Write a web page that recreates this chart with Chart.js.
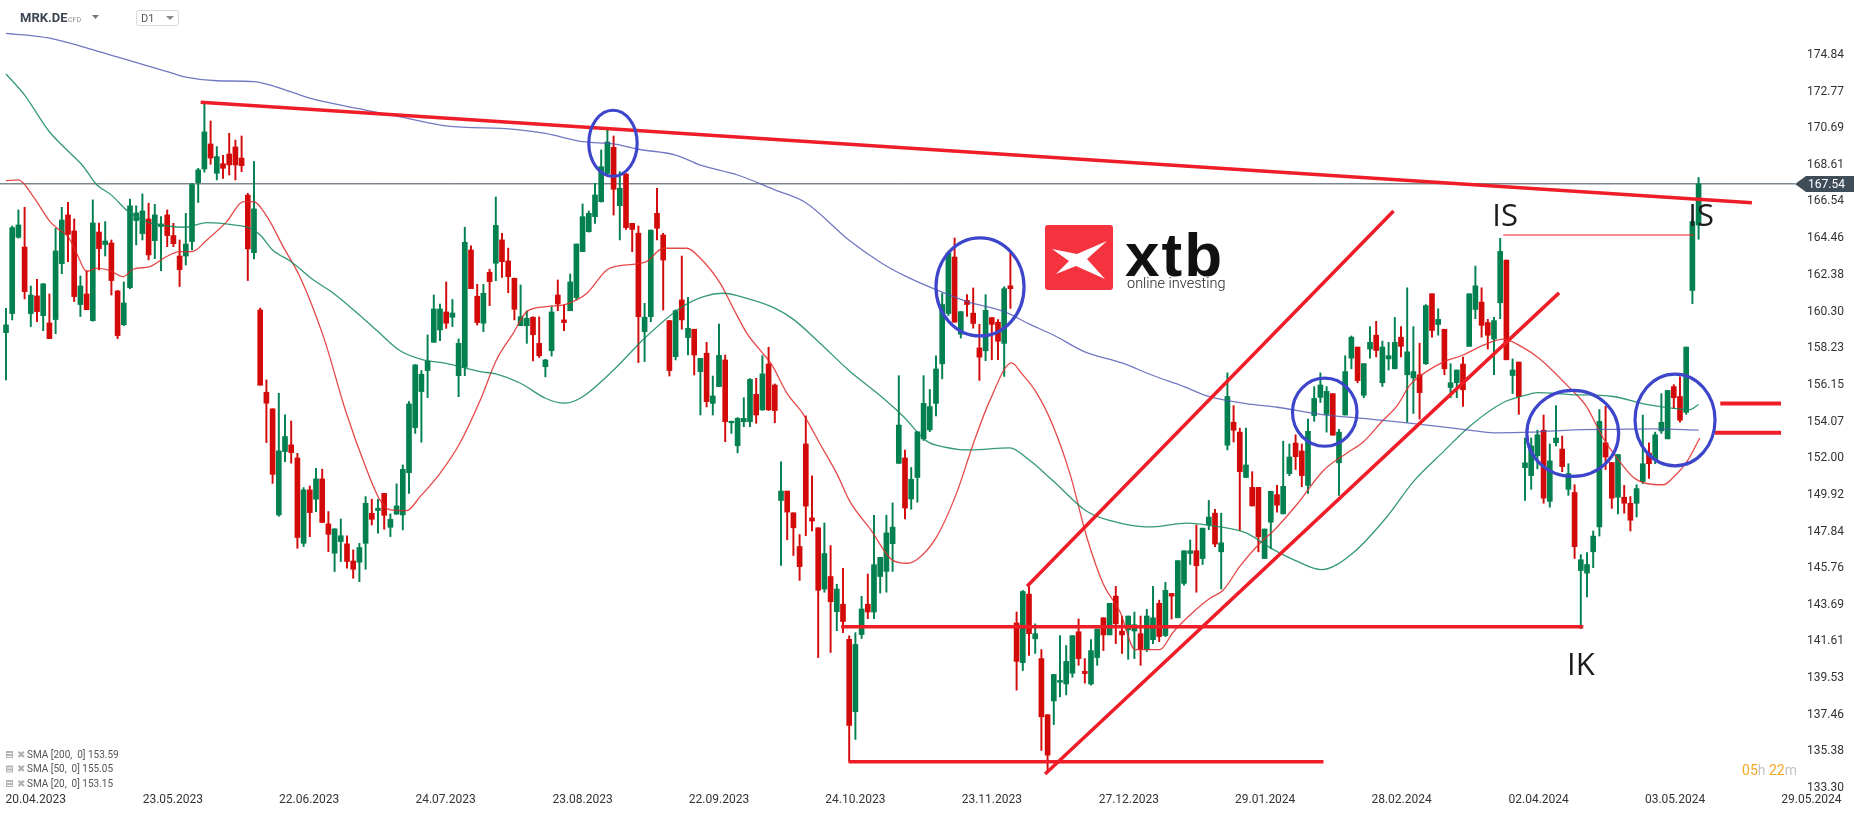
<!DOCTYPE html>
<html>
<head>
<meta charset="utf-8">
<script src="https://cdn.jsdelivr.net/npm/chart.js@4.4.1/dist/chart.umd.min.js"></script>
<style>
  html, body { margin: 0; padding: 0; background: #fff; }
  #wrap { width: 1866px; height: 815px; position: relative; }
</style>
</head>
<body>
<div id="wrap"><canvas id="chart"></canvas></div>
<script>
// ---- data ----
const dateLabels = ['20.04.2023','23.05.2023','22.06.2023','24.07.2023','23.08.2023','22.09.2023','24.10.2023',
  '23.11.2023','27.12.2023','29.01.2024','28.02.2024','02.04.2024','03.05.2024','29.05.2024'];
const dateLabelBars = [4.8, 26.9, 48.9, 70.9, 93.0, 115.0, 137.0, 159.0, 181.1, 203.1, 225.1, 247.2, 269.2, 291.2];

const priceTicks = [133.30,135.38,137.46,139.53,141.61,143.69,145.76,147.84,149.92,152.00,154.07,
  156.15,158.23,160.30,162.38,164.46,166.54,168.61,170.69,172.77,174.84];

const opens = [
  159.11,160.19,164.51,163.96,160.19,161.19,160.07,159.66,159.85,163.02,
  165.78,164.87,160.70,161.30,159.79,164.81,164.10,164.19,161.47,159.56,
  161.66,165.46,164.72,165.55,164.32,165.12,165.78,164.61,163.45,163.45,
  164.27,167.61,168.38,169.80,168.14,168.68,169.23,169.63,169.00,166.90,
  163.64,160.39,155.73,154.79,148.78,152.37,152.75,152.01,147.17,150.20,
  149.67,150.82,148.27,146.61,147.27,147.14,146.17,146.10,147.17,148.87,
  149.03,150.00,148.08,148.82,148.78,151.17,153.73,155.77,156.96,158.56,
  159.26,160.28,159.98,156.67,157.14,163.79,161.17,159.64,162.53,163.04,
  164.36,163.17,162.19,159.50,159.50,159.98,158.50,157.18,158.09,161.24,
  159.83,160.35,161.09,163.70,164.83,165.68,166.53,168.13,169.61,166.30,
  168.10,165.30,164.74,159.16,160.01,165.87,164.64,159.79,157.75,160.96,
  158.83,159.30,156.90,157.94,155.10,156.05,157.56,154.00,152.70,154.06,
  154.06,155.61,154.73,157.33,156.14,149.60,150.13,148.90,146.99,152.80,
  148.61,148.05,144.58,145.29,143.30,143.72,141.73,137.63,142.00,143.72,
  143.28,145.29,145.58,147.15,151.70,152.01,149.68,150.90,153.09,153.60,
  155.10,157.34,160.19,163.39,159.02,160.93,160.21,158.24,158.08,159.96,
  159.70,158.50,161.76,142.66,140.41,144.29,141.76,140.64,137.46,138.24,
  139.30,139.20,139.81,142.16,139.92,139.20,140.70,142.95,141.98,144.18,
  142.20,142.27,142.20,142.05,141.15,141.71,143.77,141.94,144.33,142.95,
  144.90,146.60,146.75,146.31,148.21,148.88,146.69,152.73,154.03,153.47,
  150.90,150.34,150.34,146.31,148.37,149.93,148.84,151.12,152.85,152.40,
  150.45,154.41,155.44,154.48,155.65,151.73,154.44,157.66,158.29,155.56,
  158.18,158.96,156.27,157.62,157.06,158.85,156.72,156.54,156.72,157.35,
  161.31,159.57,159.30,156.00,156.27,157.33,158.33,160.42,160.84,159.68,
  158.74,160.80,163.22,156.68,157.44,151.46,151.01,152.13,153.58,149.55,
  152.87,152.51,150.23,150.05,145.63,145.48,146.69,148.10,152.87,151.75,
  149.78,149.78,149.44,149.44,150.67,152.29,151.91,153.54,153.09,156.05,
  155.49,154.59,161.50,165.20
];
const highs = [
  160.49,165.15,166.06,166.21,161.75,162.13,161.90,161.30,165.02,166.21,
  166.49,165.55,162.32,162.62,166.63,165.32,165.40,164.36,161.50,161.98,
  166.67,166.29,166.97,166.44,166.38,165.68,166.06,165.30,164.36,165.87,
  167.57,168.42,172.19,171.10,169.65,169.16,170.40,170.02,170.25,167.00,
  168.80,160.50,156.43,154.80,155.67,154.45,154.10,152.27,150.33,150.42,
  151.42,151.37,148.97,148.00,148.55,147.59,146.80,147.17,149.82,149.67,
  149.67,150.00,148.84,150.54,151.61,155.20,157.30,156.96,158.98,161.24,
  160.73,161.98,160.99,158.75,165.08,164.02,161.85,161.85,162.70,166.79,
  164.73,163.90,162.20,161.81,160.35,160.00,160.00,157.60,160.58,162.09,
  160.68,162.43,164.13,166.40,166.00,167.57,169.46,170.59,170.25,168.23,
  168.10,165.30,165.15,160.77,164.92,167.29,164.74,159.80,160.40,163.45,
  161.11,159.30,157.65,158.56,156.65,159.60,157.84,154.10,154.30,155.42,
  156.50,156.52,157.80,158.28,156.20,151.79,150.13,148.90,147.67,154.39,
  151.00,148.05,148.32,147.04,144.85,145.76,141.93,142.11,144.17,145.43,
  148.76,146.37,148.76,149.46,156.67,152.46,151.47,153.50,156.67,155.89,
  157.79,161.33,163.73,164.47,160.30,161.26,161.64,159.58,161.26,159.96,
  159.85,161.71,163.62,143.28,144.50,144.85,142.61,141.15,137.46,139.74,
  141.94,141.38,141.94,142.88,140.64,141.71,142.32,142.95,143.77,144.73,
  143.05,143.05,143.28,143.05,143.43,144.73,143.95,144.96,144.33,146.19,
  146.75,147.36,148.21,148.03,149.60,149.10,148.88,156.83,154.97,153.70,
  153.70,151.23,150.34,147.98,150.12,150.45,152.96,152.80,153.32,152.80,
  154.21,156.05,156.83,156.05,155.65,153.63,157.80,158.92,158.29,157.35,
  159.45,159.75,158.63,158.56,159.97,159.45,161.65,159.45,158.51,160.70,
  161.31,160.46,159.30,157.35,156.99,157.73,161.31,162.88,161.65,159.86,
  159.97,164.45,163.22,157.62,157.44,153.14,153.14,153.58,154.44,152.80,
  154.97,153.25,151.68,150.49,146.53,146.64,147.87,154.75,154.93,151.75,
  152.20,150.45,149.82,150.49,154.44,152.87,153.47,155.65,155.83,156.16,
  156.61,158.29,165.50,167.90
];
const lows = [
  156.43,159.83,164.46,161.02,159.45,159.73,159.22,158.77,159.05,162.45,
  163.13,160.87,160.02,160.40,159.75,162.66,163.45,161.24,158.77,159.50,
  161.60,164.08,164.36,163.23,163.30,162.62,163.98,163.98,161.72,162.94,
  163.79,166.48,168.20,168.65,167.76,167.85,168.04,167.76,168.23,162.06,
  163.28,156.13,152.88,150.57,148.70,151.80,151.71,146.89,146.99,147.55,
  148.97,148.35,146.70,145.57,146.14,145.76,145.19,145.00,145.70,148.21,
  147.74,147.97,147.55,148.82,147.93,150.00,153.40,152.90,155.42,158.56,
  158.65,159.35,159.45,155.48,156.67,161.60,159.54,159.16,160.64,162.05,
  162.24,161.37,159.83,159.50,158.50,157.50,157.70,156.60,157.78,160.35,
  159.22,160.35,160.96,163.70,164.80,165.30,166.50,168.10,165.77,164.36,
  164.96,163.70,157.41,157.47,159.73,164.36,160.39,156.65,157.56,159.30,
  157.84,156.71,154.44,154.90,154.44,156.05,152.93,153.40,152.30,153.78,
  153.78,153.97,154.70,154.70,154.00,145.92,147.37,146.48,145.07,147.60,
  147.87,140.70,144.40,140.99,142.22,142.11,134.79,136.06,141.78,142.90,
  142.90,144.35,144.40,145.58,151.70,148.56,149.10,149.50,153.00,153.50,
  154.39,156.49,160.08,159.70,158.80,160.03,159.36,156.40,157.52,157.57,
  157.57,156.63,160.48,138.85,139.96,140.82,140.93,135.44,134.20,136.90,
  138.47,138.58,139.58,140.26,139.25,139.14,140.26,141.09,141.98,141.49,
  140.93,140.60,140.64,140.26,141.04,141.49,141.60,141.89,142.88,142.95,
  144.80,145.97,144.40,145.97,147.94,146.98,144.58,152.46,152.91,147.92,
  150.90,149.29,146.69,146.31,146.87,148.93,148.84,151.00,151.35,150.38,
  150.00,154.08,155.15,153.47,153.30,149.89,154.44,157.06,156.27,155.42,
  157.66,157.73,156.05,156.99,157.06,157.73,154.03,154.53,154.21,157.30,
  158.85,158.96,156.72,155.42,155.42,154.93,158.33,159.90,158.85,158.18,
  156.72,159.90,157.57,155.65,154.48,149.60,150.23,151.39,149.44,149.22,
  152.69,151.23,149.89,146.31,142.34,144.13,145.79,147.58,151.35,149.15,
  148.84,148.88,147.87,148.66,150.56,150.85,151.68,153.40,153.09,154.82,
  154.03,154.48,160.75,164.40
];
const closes = [
  159.55,165.06,165.21,161.43,161.24,160.30,161.87,158.77,163.74,165.49,
  164.68,161.15,161.75,160.41,165.32,163.87,164.30,162.06,158.94,160.79,
  166.29,165.89,166.00,163.51,165.78,165.27,164.61,164.15,162.68,164.13,
  167.50,168.33,170.48,169.00,169.08,168.42,168.61,168.61,168.57,163.85,
  166.12,156.13,155.11,151.08,152.41,153.22,152.31,147.50,150.20,148.91,
  150.82,148.35,147.68,147.99,147.60,146.14,145.70,146.93,149.44,148.53,
  149.16,148.76,148.53,149.29,151.36,155.07,157.28,156.75,157.50,160.45,
  160.45,159.64,160.22,158.50,164.23,161.60,159.68,161.34,162.00,165.19,
  163.13,162.28,160.43,160.01,159.92,158.99,157.80,157.56,160.28,160.73,
  159.68,161.98,164.13,165.68,165.87,166.91,168.51,169.91,167.23,167.29,
  165.06,164.96,160.01,159.98,164.92,165.02,163.22,156.96,160.35,159.83,
  159.35,157.84,157.65,155.20,155.52,157.82,154.06,154.06,154.25,154.25,
  156.46,154.44,156.77,154.73,154.69,150.13,148.94,148.05,145.85,149.28,
  148.43,144.51,146.59,143.86,144.58,142.74,136.85,141.44,143.45,143.28,
  145.96,146.37,147.76,148.09,153.87,149.17,150.80,153.49,155.10,154.92,
  157.05,160.70,163.62,159.70,160.30,160.70,159.63,157.72,160.37,159.58,
  158.62,161.60,161.60,140.48,144.44,142.05,142.05,137.34,135.17,139.74,
  139.40,140.48,141.94,140.64,139.79,141.09,142.32,141.98,143.77,142.61,
  141.98,143.05,142.56,141.15,143.05,142.95,141.89,144.51,144.18,146.19,
  146.75,146.75,145.90,148.03,148.66,147.13,147.20,155.49,153.58,151.23,
  151.61,149.29,147.54,147.98,150.12,149.33,150.40,152.06,152.08,151.01,
  153.52,155.38,156.14,155.78,153.30,153.47,156.90,158.85,156.39,157.35,
  158.56,158.10,158.29,157.80,158.56,158.33,158.02,156.90,155.71,160.64,
  159.23,159.86,157.06,156.27,156.99,155.87,161.31,161.76,159.52,158.96,
  159.79,163.71,157.57,156.99,155.49,151.73,152.69,153.32,149.73,151.84,
  153.14,151.52,151.12,146.98,146.24,145.97,147.58,154.08,152.06,149.73,
  152.20,149.44,148.48,150.27,151.68,151.68,153.32,154.03,155.83,155.42,
  154.15,158.29,165.40,167.54
];

// moving averages, read at sample bars [bar, value]
const sma200 = [[0,176.07],[7,175.79],[15,175.03],[20.5,174.46],[26,173.9],[29,173.58],[34,173.38],[40,173.33],
  [45,172.86],[49,172.39],[58,171.72],[64,171.3],[71,170.82],[82,170.63],[87,170.4],[93,169.93],[98,169.8],
  [102,169.5],[108,169.17],[112,168.6],[118,168.04],[124,167.2],[129,166.47],[136,164.34],[141,163.1],
  [145,162.32],[150,161.54],[155,160.87],[161,160.3],[165,159.6],[169,158.96],[174,158.02],[180,157.39],
  [185,156.68],[190,156.05],[194,155.49],[201,155.04],[205,154.88],[212,154.48],[220,154.21],[226,153.99],
  [236,153.59],[240,153.43],[246,153.47],[252,153.59],[260,153.63],[266,153.65],[273,153.59]];
const sma50 = [[0,173.76],[3,172.57],[7,170.49],[10,169.4],[12.5,168.51],[14.6,167.5],[17,166.9],[19.7,165.97],
  [22.7,165.4],[26,165.15],[29,165.08],[32.4,165.34],[36.7,165.21],[39.4,165.02],[41,164.64],[43,163.79],
  [46,163.13],[49.6,162.09],[52.8,161.34],[57,160.11],[60,159.17],[63.5,158.1],[67,157.6],[71,157.37],
  [76.5,156.9],[79,156.77],[83,156.24],[87,155.39],[90,155.11],[92.6,155.39],[98,156.99],[103,158.79],
  [108.7,160.49],[112.5,161.15],[115.7,161.34],[119.5,161.05],[124,160.5],[127,159.86],[131.3,158.51],
  [136,156.95],[140.4,155.71],[144.7,154.37],[148.5,152.96],[151.2,152.64],[155.5,152.46],[161.9,152.58],
  [165,151.9],[169,150.67],[174.3,148.99],[179.7,148.32],[185,148.1],[190.4,148.32],[195.8,148.1],
  [200,147.76],[204,146.9],[208,146.19],[212.2,145.68],[217.3,146.64],[222.7,148.66],[227,150.67],
  [231.8,152.35],[236.1,153.81],[241.5,155.15],[245,155.55],[247,155.71],[252.3,155.6],[259.2,155.49],
  [264.6,155.04],[268.9,154.82],[271.6,154.75],[273,155.04]];
const sma20 = [[0,167.72],[2,167.76],[4.4,166.82],[7.1,165.4],[8.4,164.98],[10,164.55],[11.4,163.6],[13,162.57],
  [14.6,162.76],[16.8,162.62],[18.9,162.28],[20.5,162.7],[23.2,162.85],[25.9,163.42],[28,163.7],[30,163.7],
  [32.4,164.36],[35.6,165.4],[38.3,166.53],[39.9,166.53],[42.1,165.68],[44.7,163.98],[47.4,162.28],
  [51.2,158.88],[54.9,154.54],[58.2,151.33],[60.3,149.63],[62,149.06],[64.6,149.02],[66.8,149.82],
  [70,151.14],[73.2,152.84],[76.5,155.29],[79.1,157.56],[81.8,159.07],[84,160.3],[87.2,160.58],
  [90.4,160.73],[93.7,161.34],[96.9,162.66],[99,162.9],[103.3,163.13],[106,163.89],[109.8,163.89],
  [112,163.32],[115.2,161.9],[117.3,160.49],[119.5,159.07],[121.6,158.13],[123.5,157.3],[125.9,155.71],
  [128.6,154.48],[131.3,152.8],[134,151.12],[136.1,149.55],[139.4,147.98],[143.1,146.19],[145.3,146.04],
  [147.1,146.3],[150.1,147.54],[153.3,150.0],[156,152.8],[158.7,155.27],[162.2,157.39],[163.8,156.8],
  [166.2,155.71],[168.9,153.81],[171.6,151.12],[174.3,147.54],[177,144.85],[179.7,143.28],[182.1,141.15],
  [184,141.15],[186.1,141.15],[188.3,142.16],[191.5,143.28],[194.2,144.06],[196.3,144.51],[199,145.86],
  [202.3,147.2],[204.5,147.9],[208.2,149.37],[212.5,151.3],[216.3,152.29],[218.9,152.91],[222.1,154.14],
  [224.3,154.93],[226.5,156.16],[229.1,156.9],[231.8,157.44],[235,157.84],[238.3,158.4],[241.5,158.74],
  [244.5,158.3],[247.4,157.62],[252.3,155.94],[254.9,154.93],[257.6,153.14],[260.3,151.79],[262.5,150.9],
  [264.6,150.56],[267.3,150.49],[268.9,150.9],[271.1,151.79],[273.2,153.14]];

const lastPrice = 167.54;
const smaLegend = ['SMA [200,  0] 153.59', 'SMA [50,  0] 155.05', 'SMA [20,  0] 153.15'];

// hand drawn analysis on the chart, in [bar, price]
const resistanceLine = [[31.4,172.16],[281.6,166.47]];
const supportLine = [[134.7,142.45],[254.4,142.45]];
const bottomLine = [[135.9,134.8],[212.5,134.8]];
const channelTop = [[164.7,144.74],[223.8,166.0]];
const channelBottom = [[167.6,134.1],[250.5,161.36]];
const isLine = [[241.5,164.64],[272.2,164.64]];
const markUpper = [[276.5,155.1],[286.3,155.1]];
const markLower = [[275.6,153.44],[286.3,153.44]];
// ellipses: centre bar, centre price, half width in bars, half height in price
const circles = [[97.9,169.84,3.9,1.87],[157.1,161.7,7.1,2.78],[212.7,154.6,5.2,1.93],
  [252.7,153.4,7.4,2.44],[269.2,154.16,6.45,2.6]];
const chartNotes = [['IS',241.8,165.66],['IS',273.4,165.66],['IK',254.0,140.22]];

// ---- build ----
const UP = '#02804f', DOWN = '#d30a0a';
const bodies = opens.map((o, i) => ({ x: i, y: [o, closes[i]] }));
const wicks = lows.map((l, i) => ({ x: i, y: [l, highs[i]] }));
const candleColor = ctx => closes[ctx.dataIndex] >= opens[ctx.dataIndex] ? UP : DOWN;
const toPts = arr => arr.map(p => ({ x: p[0], y: p[1] }));

function markLine(pts, width, color) {
  return { type: 'line', data: toPts(pts), borderColor: color, borderWidth: width,
    pointRadius: 0, tension: 0, order: 1 };
}
function smaLine(pts, color) {
  return { type: 'line', data: toPts(pts), borderColor: color, borderWidth: 1.3,
    pointRadius: 0, cubicInterpolationMode: 'monotone', order: 5 };
}

const overlay = {
  id: 'overlay',
  afterDatasetsDraw(chart) {
    const { ctx, scales: { x, y } } = chart;
    ctx.save();
    ctx.strokeStyle = '#3d45cb';
    ctx.lineWidth = 3.2;
    circles.forEach(c => {
      const cx = x.getPixelForValue(c[0]), cy = y.getPixelForValue(c[1]);
      const rx = x.getPixelForValue(c[0] + c[2]) - cx;
      const ry = cy - y.getPixelForValue(c[1] + c[3]);
      ctx.beginPath();
      ctx.ellipse(cx, cy, rx, ry, 0, 0, Math.PI * 2);
      ctx.stroke();
    });
    ctx.fillStyle = '#1c1c1c';
    ctx.font = '31px "Open Sans", "Noto Sans", sans-serif';
    ctx.textAlign = 'center';
    ctx.textBaseline = 'middle';
    chartNotes.forEach(n => ctx.fillText(n[0], x.getPixelForValue(n[1]), y.getPixelForValue(n[2])));

    // xtb watermark
    ctx.fillStyle = '#f5333f';
    ctx.beginPath();
    ctx.roundRect(1045, 225, 68, 65, 3);
    ctx.fill();
    ctx.fillStyle = '#fff';
    ctx.beginPath();
    ctx.moveTo(1052, 249); ctx.lineTo(1077, 254); ctx.lineTo(1107, 241);
    ctx.lineTo(1087, 259); ctx.lineTo(1105, 279); ctx.lineTo(1076, 266);
    ctx.lineTo(1056, 274); ctx.lineTo(1069, 261);
    ctx.closePath();
    ctx.fill();
    ctx.fillStyle = '#111';
    ctx.textAlign = 'left';
    ctx.textBaseline = 'alphabetic';
    ctx.font = 'bold 62px "Liberation Sans", Arial, sans-serif';
    ctx.letterSpacing = '2px';
    ctx.fillText('xtb', 1125, 276);
    ctx.letterSpacing = '0px';
    ctx.font = '300 14.5px Roboto, sans-serif';
    ctx.fillStyle = '#222';
    ctx.fillText('online investing', 1127, 288);
    ctx.restore();
  },
  afterDraw(chart) {
    const { ctx, scales: { x, y }, chartArea } = chart;
    ctx.save();
    // date labels
    ctx.font = '12px Roboto, sans-serif';
    ctx.fillStyle = '#333';
    ctx.textAlign = 'center';
    ctx.textBaseline = 'middle';
    dateLabels.forEach((d, k) => ctx.fillText(d, x.getPixelForValue(dateLabelBars[k]), 800));

    // last price tag
    const py = Math.round(y.getPixelForValue(lastPrice));
    const tx = chartArea.right;
    ctx.fillStyle = '#3f4d59';
    ctx.beginPath();
    ctx.moveTo(tx, py);
    ctx.lineTo(tx + 11, py - 8);
    ctx.lineTo(tx + 59, py - 8);
    ctx.lineTo(tx + 59, py + 8);
    ctx.lineTo(tx + 11, py + 8);
    ctx.closePath();
    ctx.fill();
    ctx.fillStyle = '#fff';
    ctx.textAlign = 'left';
    ctx.font = '12px Roboto, sans-serif';
    ctx.fillText(lastPrice.toFixed(2), tx + 13, py + 1);

    // header
    ctx.fillStyle = '#3b4651';
    ctx.font = 'bold 13px Roboto, sans-serif';
    ctx.fillText('MRK.DE', 20, 19);
    ctx.fillStyle = '#8a8a8a';
    ctx.font = '7px Roboto, sans-serif';
    ctx.fillText('CFD', 68, 20);
    ctx.fillStyle = '#777';
    ctx.beginPath(); ctx.moveTo(92, 15); ctx.lineTo(99, 15); ctx.lineTo(95.5, 19); ctx.closePath(); ctx.fill();
    ctx.strokeStyle = '#d8d8d8';
    ctx.lineWidth = 1;
    ctx.beginPath(); ctx.roundRect(136.5, 10.5, 42, 15, 2); ctx.stroke();
    ctx.fillStyle = '#555';
    ctx.font = '11px Roboto, sans-serif';
    ctx.fillText('D1', 141, 19);
    ctx.fillStyle = '#888';
    ctx.beginPath(); ctx.moveTo(166, 16); ctx.lineTo(174, 16); ctx.lineTo(170, 20); ctx.closePath(); ctx.fill();

    // indicator legend
    ctx.font = '10px Roboto, sans-serif';
    smaLegend.forEach((t, k) => {
      const ly = 755 + k * 14.5;
      ctx.fillStyle = '#b5b5b5';
      ctx.fillRect(6, ly - 4, 7, 7);
      ctx.fillStyle = '#fff';
      ctx.fillRect(7, ly - 2, 5, 1);
      ctx.fillRect(7, ly + 1, 5, 1);
      ctx.fillStyle = '#b0b0b0';
      ctx.fillText('\u2716', 17, ly);
      ctx.fillStyle = '#555';
      ctx.fillText(t, 27, ly);
    });

    // candle timer
    ctx.font = '14px Roboto, sans-serif';
    const parts = [['05', '#f5a623'], ['h ', '#c4c4c4'], ['22', '#f5a623'], ['m', '#c4c4c4']];
    let w = parts.reduce((s, p) => s + ctx.measureText(p[0]).width, 0);
    let cx = 1797 - w;
    parts.forEach(p => { ctx.fillStyle = p[1]; ctx.fillText(p[0], cx, 771); cx += ctx.measureText(p[0]).width; });
    ctx.restore();
  }
};

new Chart(document.getElementById('chart'), {
  type: 'bar',
  data: {
    datasets: [
      { data: bodies, backgroundColor: candleColor, barThickness: 5, minBarLength: 1.5, grouped: false, order: 10 },
      { data: wicks, backgroundColor: candleColor, barThickness: 1.3, grouped: false, order: 11 },
      { type: 'line', data: [{ x: -2, y: lastPrice }, { x: 300, y: lastPrice }], borderColor: '#3f4d59',
        borderWidth: 1, pointRadius: 0, order: 12 },
      smaLine(sma200, 'rgba(78,86,178,0.8)'),
      smaLine(sma50, 'rgba(18,135,92,0.85)'),
      smaLine(sma20, 'rgba(226,40,40,0.85)'),
      markLine(resistanceLine, 3.5, '#ee1d27'),
      markLine(supportLine, 3.5, '#ee1d27'),
      markLine(bottomLine, 3.5, '#ee1d27'),
      markLine(channelTop, 3.5, '#ee1d27'),
      markLine(channelBottom, 3.5, '#ee1d27'),
      markLine(isLine, 1.2, '#ee1d27'),
      markLine(markUpper, 4, '#ee1d27'),
      markLine(markLower, 4, '#ee1d27')
    ]
  },
  options: {
    responsive: true,
    maintainAspectRatio: false,
    animation: false,
    devicePixelRatio: 1,
    layout: { padding: { left: 0, right: 0, top: 0, bottom: 23 } },
    plugins: { legend: { display: false }, tooltip: { enabled: false } },
    scales: {
      x: {
        type: 'linear', min: -0.968, max: 288.55, offset: false, display: false
      },
      y: {
        position: 'right', min: 133.08, max: 177.956, bounds: 'data',
        grid: { display: false, drawTicks: false },
        border: { display: false },
        afterBuildTicks: s => { s.ticks = priceTicks.map(v => ({ value: v })); },
        afterFit: s => { s.width = 71; s.paddingTop = 0; s.paddingBottom = 0; },
        ticks: {
          autoSkip: false, padding: 12, color: '#333',
          font: { family: 'Roboto', size: 12 },
          callback: v => Number(v).toFixed(2)
        }
      }
    }
  },
  plugins: [overlay]
});
</script>
</body>
</html>
